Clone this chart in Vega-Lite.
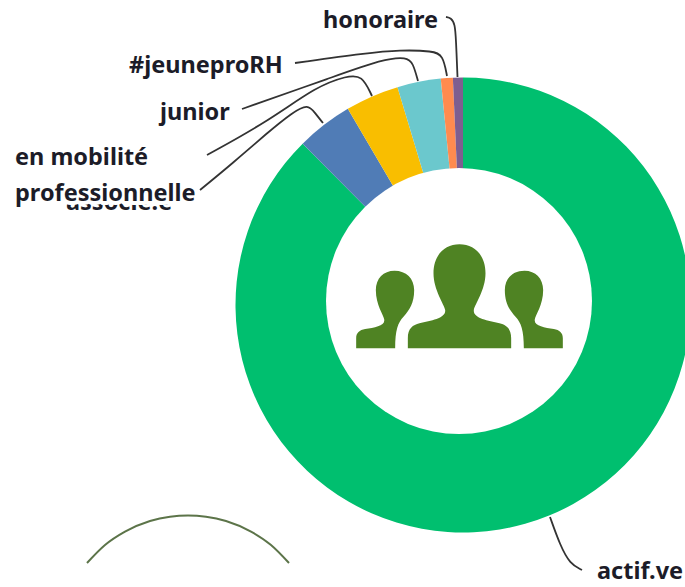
{"$schema":"https://vega.github.io/schema/vega-lite/v6.json","width":685,"height":587,"padding":0,"autosize":{"type":"none"},"background":"white","config":{"view":{"stroke":null}},"datasets":{"slices":[{"statut":"actif.ve","part":87.55,"rang":1},{"statut":"en mobilité professionnelle","part":4.0,"rang":2},{"statut":"associé.e","part":3.8,"rang":3},{"statut":"junior","part":3.09,"rang":4},{"statut":"#jeuneproRH","part":0.85,"rang":5},{"statut":"honoraire","part":0.71,"rang":6}],"leaders":[{"statut":"honoraire","px":446,"py":17},{"statut":"honoraire","px":451,"py":18},{"statut":"honoraire","px":455,"py":24},{"statut":"honoraire","px":456,"py":40},{"statut":"honoraire","px":457.5,"py":77},{"statut":"#jeuneproRH","px":295,"py":63},{"statut":"#jeuneproRH","px":367,"py":53},{"statut":"#jeuneproRH","px":400,"py":50},{"statut":"#jeuneproRH","px":433,"py":51},{"statut":"#jeuneproRH","px":443,"py":55},{"statut":"#jeuneproRH","px":447,"py":76},{"statut":"junior","px":242,"py":109},{"statut":"junior","px":333,"py":77},{"statut":"junior","px":383,"py":59},{"statut":"junior","px":407,"py":57},{"statut":"junior","px":413,"py":63},{"statut":"junior","px":418,"py":81},{"statut":"associé.e","px":207,"py":155},{"statut":"associé.e","px":267,"py":122},{"statut":"associé.e","px":317,"py":86},{"statut":"associé.e","px":347,"py":76},{"statut":"associé.e","px":362,"py":75},{"statut":"associé.e","px":372,"py":96},{"statut":"mobilité","px":200,"py":190},{"statut":"mobilité","px":233,"py":163},{"statut":"mobilité","px":267,"py":133},{"statut":"mobilité","px":293,"py":112},{"statut":"mobilité","px":308,"py":104},{"statut":"mobilité","px":315,"py":113},{"statut":"mobilité","px":323,"py":123},{"statut":"actif.ve","px":550,"py":517},{"statut":"actif.ve","px":560,"py":545},{"statut":"actif.ve","px":570,"py":564},{"statut":"actif.ve","px":582,"py":570}],"labels":[{"texte":"honoraire","px":323,"py":21},{"texte":"#jeuneproRH","px":129,"py":66},{"texte":"junior","px":160,"py":113},{"texte":"en mobilité\nprofessionnelle","px":15,"py":158},{"texte":"actif.ve","px":597,"py":572}],"deco":[{"px":87,"py":563},{"px":105,"py":545},{"px":125,"py":531.6},{"px":150,"py":521},{"px":170,"py":516.7},{"px":188,"py":515.5},{"px":206,"py":516.7},{"px":226,"py":521},{"px":251,"py":531.6},{"px":271,"py":545},{"px":289,"py":563}]},"layer":[{"data":{"name":"slices"},"mark":{"type":"arc","radius":227.5},"encoding":{"x":{"datum":463,"type":"quantitative","scale":{"domain":[0,685],"nice":false},"axis":null},"y":{"datum":305,"type":"quantitative","scale":{"domain":[0,587],"reverse":true,"nice":false},"axis":null},"theta":{"field":"part","type":"quantitative","stack":"zero"},"order":{"field":"rang","type":"quantitative"},"color":{"field":"statut","type":"nominal","legend":null,"scale":{"domain":["actif.ve","en mobilité professionnelle","associé.e","junior","#jeuneproRH","honoraire"],"range":["#00BF6F","#507CB6","#F9BE00","#6BC8CD","#FF8B4F","#7D5E90"]}}}},{"data":{"values":[{"forme":"centre"}]},"mark":{"type":"point","filled":true,"opacity":1,"size":70756,"color":"white","strokeWidth":0,"shape":"circle"},"encoding":{"x":{"datum":459,"type":"quantitative"},"y":{"datum":301,"type":"quantitative"}}},{"data":{"values":[{"icone":"groupe"}]},"mark":{"type":"point","filled":true,"opacity":1,"size":0.4444,"color":"#4F8323","strokeWidth":0,"shape":"M-155,155 L-155,125 C-155,95 -140,85 -120,80 C-85,72 -40,65 -43,40 C-45,25 -78,-20 -78,-70 C-78,-125 -45,-157 0,-157 C45,-157 78,-125 78,-70 C78,-20 45,25 43,40 C40,65 85,72 120,80 C140,85 155,95 155,125 L155,155 Z M-310,155 L-310,125 C-310,108 -300,100 -283,97 C-255,92 -222,88 -226,68 C-228,55 -251,25 -251,-20 C-251,-55 -228,-78 -195,-78 C-160,-78 -136,-55 -136,-20 C-136,20 -150,40 -168,60 C-185,78 -193,100 -193,155 Z M310,155 L310,125 C310,108 300,100 283,97 C255,92 222,88 226,68 C228,55 251,25 251,-20 C251,-55 228,-78 195,-78 C160,-78 136,-55 136,-20 C136,20 150,40 168,60 C185,78 193,100 193,155 Z"},"encoding":{"x":{"datum":459.5,"type":"quantitative"},"y":{"datum":296.7,"type":"quantitative"}}},{"data":{"values":[{"texte":"associé.e","px":66,"py":203}]},"mark":{"type":"text","align":"left","baseline":"middle","font":"Noto Sans","fontWeight":700,"fontSize":23.5,"color":"#1c1c28"},"encoding":{"x":{"field":"px","type":"quantitative"},"y":{"field":"py","type":"quantitative"},"text":{"field":"texte"}}},{"data":{"name":"labels"},"mark":{"type":"text","align":"left","baseline":"middle","font":"Noto Sans","fontWeight":700,"fontSize":23.5,"lineBreak":"\n","lineHeight":36,"stroke":"white","strokeWidth":8,"strokeJoin":"round","color":"white"},"encoding":{"x":{"field":"px","type":"quantitative"},"y":{"field":"py","type":"quantitative"},"text":{"field":"texte"}}},{"data":{"name":"leaders"},"mark":{"type":"line","interpolate":"basis","color":"#333333","strokeWidth":1.8},"encoding":{"x":{"field":"px","type":"quantitative"},"y":{"field":"py","type":"quantitative"},"detail":{"field":"statut"}}},{"data":{"name":"deco"},"mark":{"type":"line","interpolate":"monotone","color":"#5C7449","strokeWidth":2},"encoding":{"x":{"field":"px","type":"quantitative"},"y":{"field":"py","type":"quantitative"}}},{"data":{"name":"labels"},"mark":{"type":"text","align":"left","baseline":"middle","font":"Noto Sans","fontWeight":700,"fontSize":23.5,"lineBreak":"\n","lineHeight":36,"color":"#1c1c28"},"encoding":{"x":{"field":"px","type":"quantitative"},"y":{"field":"py","type":"quantitative"},"text":{"field":"texte"}}}]}
